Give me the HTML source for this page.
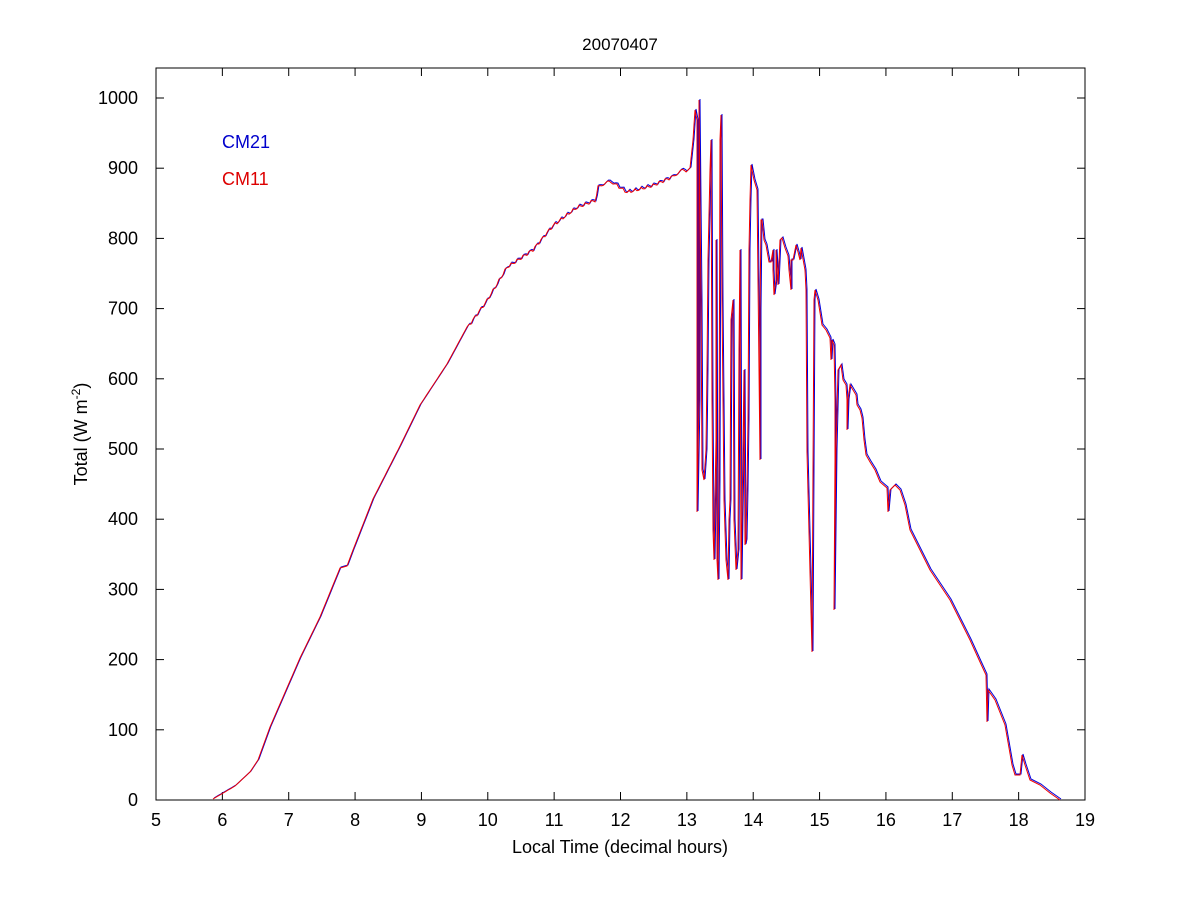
<!DOCTYPE html>
<html><head><meta charset="utf-8"><style>
html,body{margin:0;padding:0;background:#fff;}
text{font-family:"Liberation Sans",Arial,sans-serif;}
</style></head><body>
<svg width="1200" height="900" xmlns="http://www.w3.org/2000/svg">
<rect width="1200" height="900" fill="#fff"/>
<text x="620" y="50" font-size="17" text-anchor="middle">20070407</text>
<rect x="156" y="68" width="929" height="732" fill="none" stroke="#000" stroke-width="1"/>
<g stroke="#000" stroke-width="1" id="ticks"></g>
<g font-size="18" text-anchor="middle" id="xl"></g>
<g font-size="18" text-anchor="end" id="yl"></g>
<text x="620" y="853" font-size="18" text-anchor="middle">Local Time (decimal hours)</text>
<text transform="translate(87,434) rotate(-90)" font-size="18" text-anchor="middle">Total (W m<tspan dy="-7" font-size="12">-2</tspan><tspan dy="7">)</tspan></text>
<text x="222" y="148" font-size="18" fill="#0000cc">CM21</text>
<text x="222" y="185" font-size="18" fill="#dd0000">CM11</text>
<polyline id="b" fill="none" stroke="#0000dd" stroke-width="1" transform="translate(1,-1)"/>
<polyline id="r" fill="none" stroke="#ee0000" stroke-width="1"/>
</svg>
<script>
var ns="http://www.w3.org/2000/svg",t=document.getElementById('ticks'),xl=document.getElementById('xl'),yl=document.getElementById('yl');
function L(a,b,c,d){var l=document.createElementNS(ns,'line');l.setAttribute('x1',a);l.setAttribute('y1',b);l.setAttribute('x2',c);l.setAttribute('y2',d);t.appendChild(l);}
function T(g,x,y,s){var e=document.createElementNS(ns,'text');e.setAttribute('x',x);e.setAttribute('y',y);e.textContent=s;g.appendChild(e);}
for(var h=5;h<=19;h++){var x=156+(h-5)*929/14;L(x,800,x,792);L(x,68,x,76);T(xl,x,826,h);}
for(var v=0;v<=1000;v+=100){var y=800-v*0.702;L(156,y,164,y);L(1085,y,1077,y);T(yl,138,y+6,v);}
var base=[[213,799],[235,786],[250,772],[258,760],[270,727],[300,658],[320,617],[340,568],[347,566],[353,550],[373,499],[400,446],[420,405],[447,364],[467,327],[487,299],[507,266],[533,250],[553,227],[577,209],[595,201],[598,187],[613,182],[627,191],[653,184],[673,176],[688,170]];
var p=[];
for(var i=0;i<base.length-1;i++){var a=base[i],b=base[i+1];var n=Math.max(1,Math.round((b[0]-a[0])/2));for(var k=0;k<n;k++){var f=k/n;var x=a[0]+(b[0]-a[0])*f,y=a[1]+(b[1]-a[1])*f;var j=x>470?((Math.sin(x*7.3)+Math.sin(x*3.1))*1.6):0;p.push([x,y+j]);}}
var rest=[[690,168],[693,140],[695,110],[697,120],[697,512],[699,400],[699,100],[701,300],[702,470],[704,480],[706,450],[707,370],[708,260],[710,170],[711,140],[712,400],[713,530],[714,560],[715,500],[716,440],[716,240],[717,560],[718,580],[719,480],[720,140],[721,115],[722,300],[723,400],[724,500],[726,560],[728,580],[729,520],[730,500],[731,320],[733,300],[734,520],[736,570],[738,550],[739,350],[740,250],[741,580],[743,450],[744,370],[745,545],[746,540],[747,490],[748,420],[749,250],[750,200],[751,165],[752,170],[754,180],[757,190],[758,280],[759,370],[760,460],[760,310],[761,220],[762,220],[764,240],[766,245],[769,262],[771,262],[773,250],[773,270],[774,295],[776,280],[776,250],[778,285],[780,240],[782,238],[785,248],[788,256],[789,270],[791,290],[791,260],[793,260],[796,245],[798,252],[800,260],[801,248],[805,270],[806,290],[807,452],[812,652],[813,470],[814,300],[815,290],[818,300],[822,325],[826,330],[830,338],[831,360],[832,340],[834,345],[835,400],[835,460],[834,610],[836,450],[838,370],[841,365],[843,380],[846,385],[847,400],[847,430],[848,400],[850,385],[853,390],[856,395],[857,405],[860,410],[862,418],[864,440],[866,455],[870,462],[875,470],[880,482],[887,488],[888,512],[890,490],[895,485],[900,490],[905,505],[910,530],[915,540],[920,550],[925,560],[930,570],[940,585],[950,600],[960,620],[970,640],[980,662],[986,675],[987,722],[988,690],[995,700],[1005,725],[1012,765],[1015,775],[1020,775],[1022,755],[1025,765],[1030,780],[1040,785],[1050,793],[1060,800]];
p=p.concat(rest);
var s=p.map(function(a){return a[0].toFixed(1)+','+a[1].toFixed(1)}).join(' ');
document.getElementById('b').setAttribute('points',s);document.getElementById('r').setAttribute('points',s);
</script>
</body></html>
